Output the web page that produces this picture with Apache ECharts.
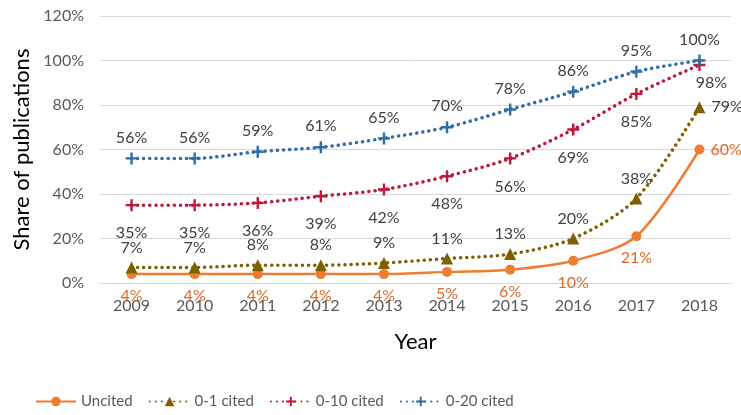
<!DOCTYPE html>
<html>
<head>
<meta charset="utf-8">
<script src="https://cdn.jsdelivr.net/npm/echarts@6/dist/echarts.min.js"></script>
<style>
  html, body { margin: 0; padding: 0; background: #fff; }
  #chart { width: 741px; height: 415px; }
</style>
</head>
<body>
<div id="chart"></div>
<script>
const years = ['2009', '2010', '2011', '2012', '2013', '2014', '2015', '2016', '2017', '2018'];
const uncited = [4, 4, 4, 4, 4, 5, 6, 10, 21, 60];
const cited01 = [7, 7, 8, 8, 9, 11, 13, 20, 38, 79];
const cited010 = [35, 35, 36, 39, 42, 48, 56, 69, 85, 98];
const cited020 = [56, 56, 59, 61, 65, 70, 78, 86, 95, 100];

const font = 'Lato, "Open Sans", sans-serif';
const plus = 'path://M4,0 L6,0 L6,4 L10,4 L10,6 L6,6 L6,10 L4,10 L4,6 L0,6 L0,4 L4,4 Z';
const dots = { type: [0.1, 6], cap: 'round', width: 3.5 };

// last point gets its label moved, like in the original
function withLast(values, label) {
  return values.map((v, i) => i === values.length - 1 ? { value: v, label: label } : v);
}

const chart = echarts.init(document.getElementById('chart'));
chart.setOption({
  animation: false,
  grid: { left: 100, right: 10, top: 16, bottom: 132 },
  xAxis: {
    type: 'category',
    data: years,
    name: 'Year',
    nameLocation: 'middle',
    nameGap: 48,
    nameTextStyle: { fontSize: 22, color: '#000', fontFamily: font },
    axisLine: { show: true, lineStyle: { color: '#d9d9d9' } },
    axisTick: { show: false },
    axisLabel: { fontSize: 16, color: '#595959', fontFamily: font, margin: 15 }
  },
  yAxis: {
    type: 'value',
    min: 0,
    max: 120,
    interval: 20,
    name: 'Share of publications',
    nameLocation: 'middle',
    nameGap: 66,
    nameTextStyle: { fontSize: 22, color: '#000', fontFamily: font },
    axisLabel: { formatter: '{value}%', fontSize: 16, color: '#595959', fontFamily: font, margin: 16 },
    splitLine: { lineStyle: { color: '#d9d9d9' } }
  },
  legend: {
    left: 30,
    bottom: 1,
    itemWidth: 40,
    itemHeight: 12,
    itemGap: 16,
    textStyle: { fontSize: 15, color: '#595959', fontFamily: font }
  },
  series: [
    {
      name: 'Uncited',
      type: 'line',
      data: withLast(uncited, { position: 'right', distance: 6 }),
      smooth: 0.3,
      symbol: 'circle',
      symbolSize: 10,
      itemStyle: { color: '#ED7D31' },
      lineStyle: { width: 2.5, color: '#ED7D31' },
      label: { show: true, position: 'bottom', distance: 9, formatter: '{c}%', fontSize: 16, color: '#D9692A', fontFamily: font }
    },
    {
      name: '0-1 cited',
      type: 'line',
      data: withLast(cited01, { position: 'right', distance: 6 }),
      smooth: 0.3,
      symbol: 'triangle',
      symbolSize: 12,
      itemStyle: { color: '#7F6000' },
      lineStyle: Object.assign({ color: '#7F6000' }, dots),
      label: { show: true, position: 'top', distance: 6, formatter: '{c}%', fontSize: 16, color: '#404040', fontFamily: font }
    },
    {
      name: '0-10 cited',
      type: 'line',
      data: withLast(cited010, { position: 'bottom', distance: 4, offset: [12, 0] }),
      smooth: 0.3,
      symbol: plus,
      symbolSize: 12,
      itemStyle: { color: '#C0183A' },
      lineStyle: Object.assign({ color: '#C0183A' }, dots),
      label: { show: true, position: 'bottom', distance: 14, formatter: '{c}%', fontSize: 16, color: '#404040', fontFamily: font }
    },
    {
      name: '0-20 cited',
      type: 'line',
      data: cited020,
      smooth: 0.3,
      symbol: plus,
      symbolSize: 12,
      itemStyle: { color: '#2E6DA8' },
      lineStyle: Object.assign({ color: '#2E6DA8' }, dots),
      label: { show: true, position: 'top', distance: 7, formatter: '{c}%', fontSize: 16, color: '#404040', fontFamily: font }
    }
  ]
});
</script>
</body>
</html>
